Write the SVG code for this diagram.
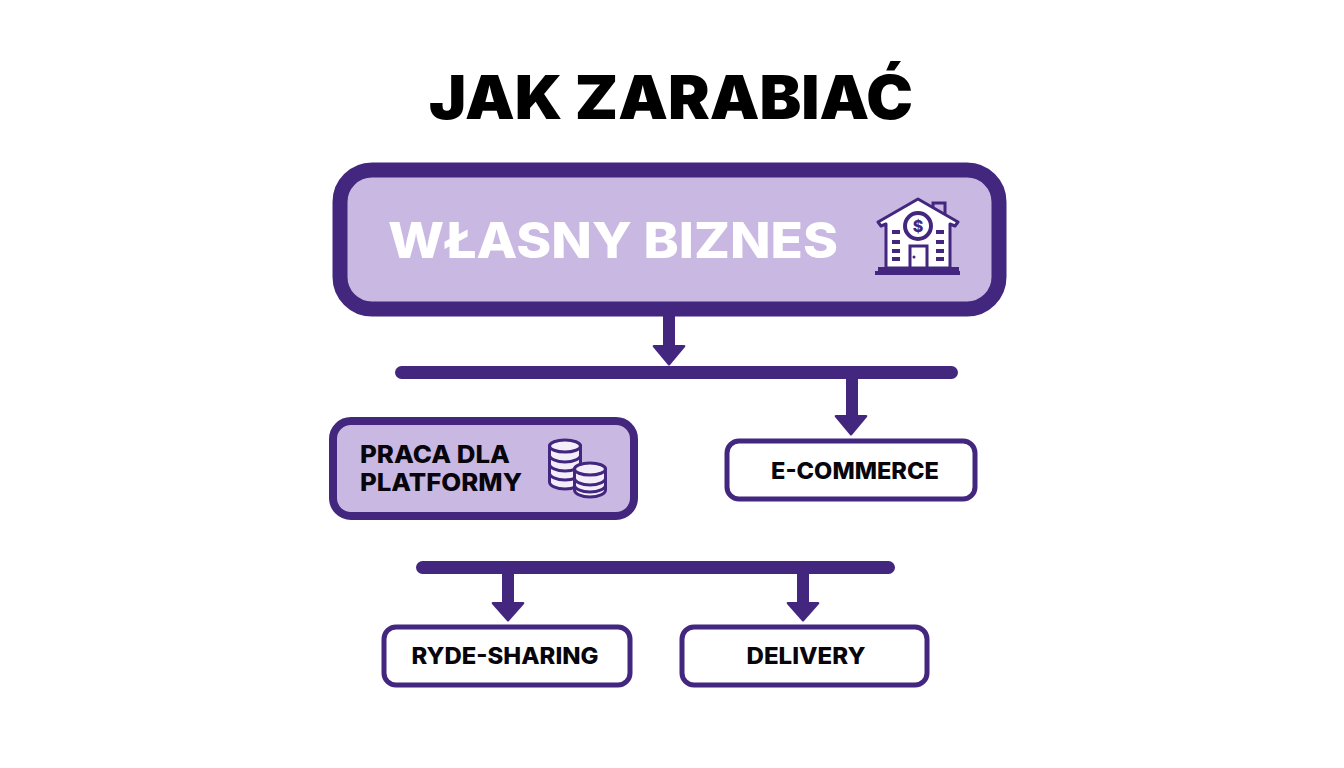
<svg xmlns="http://www.w3.org/2000/svg" width="1344" height="768" viewBox="0 0 1344 768">
<style>
text{font-family:"Inter","Liberation Sans",sans-serif;font-weight:800;fill:#08060c;text-anchor:middle}
.box{fill:#fff;stroke:#43277f;stroke-width:5}
.fill{fill:#c9b9e2;stroke:#43277f}
.line{fill:#43277f}
.ic{fill:#f3eefa;stroke:#43277f;stroke-width:3}
.id{fill:#43277f}
</style>
<rect width="1344" height="768" fill="#fff"/>
<text id="title" x="671" y="119" font-size="60" style="font-weight:900;fill:#000" textLength="484" lengthAdjust="spacingAndGlyphs">JAK ZARABIAĆ</text>
<g id="connectors">
<rect class="line" x="395" y="366" width="563" height="13" rx="6.5"/>
<rect class="line" x="416" y="561" width="479" height="13" rx="6.5"/>
<rect class="line" x="663" y="316" width="12" height="30"/><path class="line" d="M654 345H684Q686 345 685 347L670 365Q669 366 668 365L653 347Q652 345 654 345Z"/>
<rect class="line" x="846" y="378" width="12" height="38"/><path class="line" d="M836 415H866Q868 415 867 417L852 435Q851 436 850 435L835 417Q834 415 836 415Z"/>
<rect class="line" x="502" y="573" width="12" height="30"/><path class="line" d="M493 602H523Q525 602 524 604L509 621Q508 622 507 621L492 604Q491 602 493 602Z"/>
<rect class="line" x="797" y="573" width="12" height="30"/><path class="line" d="M788 602H818Q820 602 819 604L804 621Q803 622 802 621L787 604Q786 602 788 602Z"/>
</g>
<g id="n-biznes">
<rect class="fill" x="340" y="170" width="659" height="139" rx="32" stroke-width="15"/>
<text x="613" y="258" font-size="49" style="fill:#fff" textLength="450" lengthAdjust="spacingAndGlyphs">WŁASNY BIZNES</text>
<g>
<path d="M933 213V203H945V221Z" fill="#c9b9e2" stroke="#43277f" stroke-width="3"/>
<path d="M918 199L878 222L881 226L886 224V268H950V224L955 226L958 222Z" fill="#fff" stroke="#43277f" stroke-width="3" stroke-linejoin="round"/>
<circle cx="918" cy="226" r="13" fill="#fff" stroke="#43277f" stroke-width="4"/>
<text x="918" y="232" font-size="16" style="fill:#43277f">$</text>
<path class="id" d="M892 230h8v4h-8zM892 240h8v4h-8zM892 249h8v4h-8zM892 257h8v4h-8zM936 230h8v4h-8zM936 240h8v4h-8zM936 249h8v4h-8zM936 257h8v4h-8z"/>
<rect x="910" y="246" width="17" height="22" fill="#fff" stroke="#43277f" stroke-width="3"/>
<circle cx="914" cy="257" r="1.5" class="id"/>
<path class="id" d="M878 267h81v4h1v4h-85v-4h3z"/>
</g>
</g>
<g id="n-praca">
<rect class="fill" x="333" y="421" width="301" height="95" rx="18" stroke-width="8"/>
<text x="435" y="463" font-size="24" textLength="150" lengthAdjust="spacingAndGlyphs">PRACA DLA</text>
<text x="441" y="491" font-size="24" textLength="162" lengthAdjust="spacingAndGlyphs">PLATFORMY</text>
<g>
<path class="ic" d="M549.500 482V446H580.500V482A15.500 7 0 0 1 549.500 482Z"/>
<path d="M549.500 455A15.500 7 0 0 0 580.500 455M549.500 464A15.500 7 0 0 0 580.500 464M549.500 473A15.500 7 0 0 0 580.500 473" fill="none" stroke="#43277f" stroke-width="3"/>
<ellipse class="ic" cx="565" cy="446" rx="15.500" ry="6"/>
<path class="ic" d="M574.500 490V469H605.500V490A15.500 7 0 0 1 574.500 490Z"/>
<path d="M574.500 478A15.500 7 0 0 0 605.500 478M574.500 485A15.500 7 0 0 0 605.500 485" fill="none" stroke="#43277f" stroke-width="3"/>
<ellipse class="ic" cx="590" cy="469" rx="15.500" ry="6"/>
</g>
</g>
<g id="n-ecommerce">
<rect class="box" x="727" y="441" width="248" height="58" rx="12"/>
<text x="855" y="479" font-size="22.500" textLength="168" lengthAdjust="spacingAndGlyphs">E-COMMERCE</text>
</g>
<g id="n-ryde">
<rect class="box" x="384" y="627" width="246" height="58" rx="12"/>
<text x="505" y="664" font-size="22.500" textLength="187" lengthAdjust="spacingAndGlyphs">RYDE-SHARING</text>
</g>
<g id="n-delivery">
<rect class="box" x="682" y="627" width="245" height="58" rx="12"/>
<text x="806" y="664" font-size="22.500" textLength="119" lengthAdjust="spacingAndGlyphs">DELIVERY</text>
</g>
</svg>
